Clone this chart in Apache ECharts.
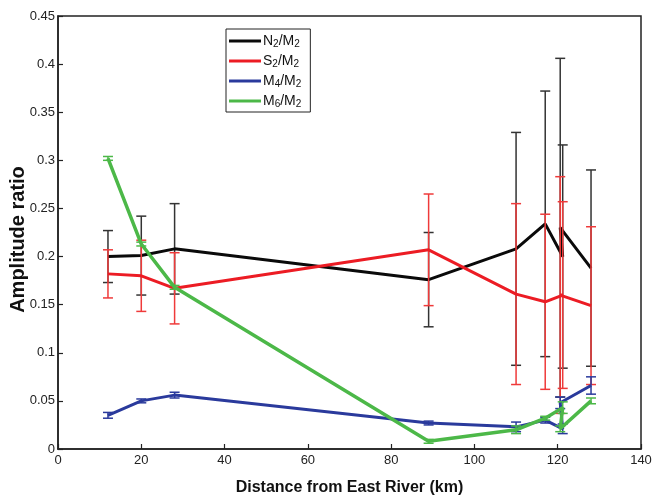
<!DOCTYPE html>
<html>
<head>
<meta charset="utf-8">
<script src="https://cdn.jsdelivr.net/npm/echarts@6/dist/echarts.min.js"></script>
<style>
  html, body { margin: 0; padding: 0; background: #fff; }
  #chart { width: 653px; height: 496px; }
</style>
</head>
<body>
<div id="chart"></div>
<script>
// Sampling stations (km from East River); two records share the ~121 km site
const distance = [12, 20, 28, 89, 110, 117, 121.2, 120.6, 128];

// Amplitude ratios relative to M2
const n2Ratio = [0.200, 0.201, 0.208, 0.176, 0.208, 0.234, 0.200, 0.230, 0.188];
const s2Ratio = [0.182, 0.180, 0.167, 0.207, 0.161, 0.153, 0.160, 0.160, 0.149];
const m4Ratio = [0.035, 0.050, 0.056, 0.027, 0.023, 0.030, 0.021, 0.048, 0.066];
const m6Ratio = [0.302, 0.213, 0.168, 0.008, 0.020, 0.032, 0.043, 0.021, 0.050];

// Error bar half-lengths
const n2Err = [0.027, 0.041, 0.047, 0.049, 0.121, 0.138, 0.116, 0.176, 0.102];
const s2Err = [0.025, 0.037, 0.037, 0.058, 0.094, 0.091, 0.097, 0.123, 0.082];
const m4Err = [0.003, 0.002, 0.003, 0.002, 0.005, 0.003, 0.005, 0.006, 0.009];
const m6Err = [0.002, 0.002, 0.002, 0.002, 0.004, 0.002, 0.006, 0.003, 0.003];

// Axis ticks
const xTicks = [0, 20, 40, 60, 80, 100, 120, 140];
const yTicks = [0, 0.05, 0.1, 0.15, 0.2, 0.25, 0.3, 0.35, 0.4, 0.45];

const legendParts = {
  'N2/M2': ['N', '2', '/M', '2'],
  'S2/M2': ['S', '2', '/M', '2'],
  'M4/M2': ['M', '4', '/M', '2'],
  'M6/M2': ['M', '6', '/M', '2']
};

const seriesDefs = [
  { name: 'N2/M2', y: n2Ratio, err: n2Err, color: '#0a0a0a', barColor: '#333333', width: 3 },
  { name: 'S2/M2', y: s2Ratio, err: s2Err, color: '#ec1c24', barColor: '#ef3a3a', width: 3 },
  { name: 'M4/M2', y: m4Ratio, err: m4Err, color: '#2a3a9c', barColor: '#2a3a9c', width: 3 },
  { name: 'M6/M2', y: m6Ratio, err: m6Err, color: '#4cb848', barColor: '#4cb848', width: 3.5 }
];

function errorBarRenderer(color) {
  return function (params, api) {
    const x = api.value(0);
    const lo = api.coord([x, api.value(1)]);
    const hi = api.coord([x, api.value(2)]);
    const cap = 5;
    const style = { stroke: color, lineWidth: 1.5 };
    return {
      type: 'group',
      children: [
        { type: 'line', shape: { x1: lo[0], y1: lo[1], x2: hi[0], y2: hi[1] }, style: style },
        { type: 'line', shape: { x1: lo[0] - cap, y1: lo[1], x2: lo[0] + cap, y2: lo[1] }, style: style },
        { type: 'line', shape: { x1: hi[0] - cap, y1: hi[1], x2: hi[0] + cap, y2: hi[1] }, style: style }
      ]
    };
  };
}

const series = [];
seriesDefs.forEach(function (d, i) {
  series.push({
    name: d.name + ' error',
    type: 'custom',
    renderItem: errorBarRenderer(d.barColor),
    data: distance.map(function (x, k) { return [x, d.y[k] - d.err[k], d.y[k] + d.err[k]]; }),
    encode: { x: 0, y: [1, 2] },
    z: 2 + i * 2,
    silent: true
  });
  series.push({
    name: d.name,
    type: 'line',
    data: distance.map(function (x, k) { return [x, d.y[k]]; }),
    symbol: 'none',
    color: d.color,
    lineStyle: { color: d.color, width: d.width },
    z: 3 + i * 2,
    silent: true
  });
});

const chart = echarts.init(document.getElementById('chart'), null, { renderer: 'canvas' });
const font = '"Liberation Sans", Arial, sans-serif';

chart.setOption({
  animation: false,
  backgroundColor: '#ffffff',
  textStyle: { fontFamily: font },
  grid: {
    left: 58, right: 12, top: 16, bottom: 47,
    containLabel: false,
    outerBoundsMode: 'none',
    show: true, borderColor: '#222', borderWidth: 1.5, backgroundColor: 'transparent'
  },
  legend: {
    data: seriesDefs.map(function (d) { return d.name; }),
    orient: 'vertical',
    left: 226,
    top: 29,
    itemWidth: 32,
    itemHeight: 3,
    itemGap: 4,
    padding: [4, 9, 3, 3],
    borderColor: '#222',
    borderWidth: 1,
    backgroundColor: '#fff',
    icon: 'rect',
    formatter: function (name) {
      const p = legendParts[name];
      return '{n|' + p[0] + '}{s|' + p[1] + '}{n|' + p[2] + '}{s|' + p[3] + '}';
    },
    textStyle: {
      fontFamily: font,
      color: '#111',
      padding: [0, 0, 0, -3],
      rich: {
        n: { fontSize: 14, fontFamily: font, color: '#111', lineHeight: 16 },
        s: { fontSize: 10, fontFamily: font, color: '#111', padding: [6, 0, 0, 0], lineHeight: 16 }
      }
    }
  },
  xAxis: {
    type: 'value',
    min: xTicks[0],
    max: xTicks[xTicks.length - 1],
    interval: xTicks[1] - xTicks[0],
    name: 'Distance from East River (km)',
    nameLocation: 'middle',
    nameGap: 31,
    nameTextStyle: { fontFamily: font, fontSize: 16, fontWeight: 'bold', color: '#111' },
    axisLine: { show: true, lineStyle: { color: '#222', width: 1.5 } },
    axisTick: { show: true, inside: true, length: 5, lineStyle: { color: '#222', width: 1.2 } },
    axisLabel: { fontFamily: font, fontSize: 13, color: '#222', margin: 5 },
    splitLine: { show: false }
  },
  yAxis: {
    type: 'value',
    min: yTicks[0],
    max: yTicks[yTicks.length - 1],
    interval: 0.05,
    name: 'Amplitude ratio',
    nameLocation: 'middle',
    nameRotate: 90,
    nameGap: 30,
    nameMoveOverlap: false,
    nameTextStyle: { fontFamily: font, fontSize: 20, fontWeight: 'bold', color: '#111', padding: [0, 14, 0, 0] },
    axisLine: { show: true, lineStyle: { color: '#222', width: 1.5 } },
    axisTick: { show: true, inside: true, length: 5, lineStyle: { color: '#222', width: 1.2 } },
    axisLabel: {
      fontFamily: font, fontSize: 13, color: '#222', margin: 3,
      formatter: function (v) { return String(parseFloat(v.toFixed(2))); }
    },
    splitLine: { show: false }
  },
  series: series
});
</script>
</body>
</html>
